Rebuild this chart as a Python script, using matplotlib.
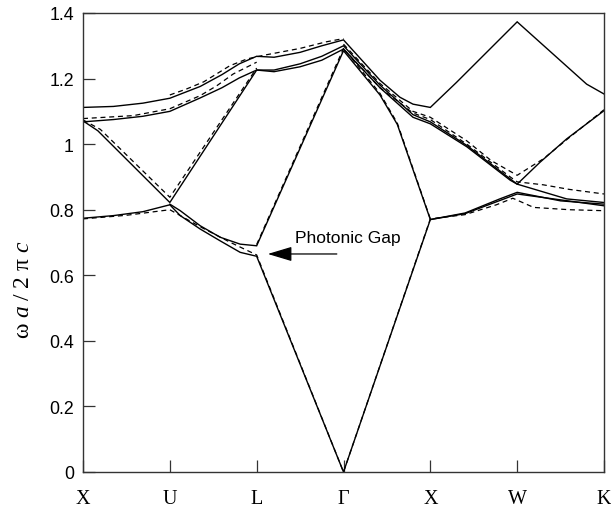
import matplotlib
matplotlib.use("Agg")
import matplotlib.pyplot as plt

plt.rcParams['mathtext.fontset'] = 'custom'
plt.rcParams['mathtext.rm'] = 'Liberation Serif'
plt.rcParams['mathtext.it'] = 'Liberation Serif:italic'

# High-symmetry points along the k-path
kpoints = ["X", "U", "L", "Γ", "X", "W", "K"]
kpos = [0, 1, 2, 3, 4, 5, 6]

# ---- Solid bands (k-path coordinate, frequency) ----
b1_k = [0, 0.35, 0.69, 1.0, 1.12, 1.35, 1.58, 1.81, 2.0, 3.0, 4.0, 4.4, 4.8, 5.0, 5.5, 6.0]
b1_w = [0.774, 0.782, 0.794, 0.815, 0.782, 0.741, 0.705, 0.670, 0.658, 0.0, 0.770, 0.790, 0.833, 0.853, 0.827, 0.817]

b2_k = [1.0, 1.12, 1.35, 1.58, 1.81, 2.0, 3.0, 3.42, 3.62, 4.0, 4.4, 4.8, 5.0, 5.5, 6.0]
b2_w = [0.817, 0.797, 0.751, 0.716, 0.695, 0.690, 1.285, 1.150, 1.060, 0.770, 0.788, 0.828, 0.848, 0.830, 0.812]

b3_k = [0, 0.17, 1.0, 2.0, 2.2, 2.5, 2.75, 3.0, 3.42, 3.8, 4.0, 4.42, 4.92, 5.0, 5.57, 6.0]
b3_w = [1.071, 1.041, 0.822, 1.226, 1.221, 1.236, 1.256, 1.290, 1.172, 1.082, 1.062, 0.992, 0.890, 0.878, 0.833, 0.822]

b4_k = [0, 0.35, 0.69, 1.0, 1.35, 1.6, 1.8, 2.0, 2.2, 2.5, 2.75, 3.0, 3.42, 3.8, 4.0, 4.42, 4.92, 5.0, 5.26, 5.57, 6.0]
b4_w = [1.068, 1.075, 1.085, 1.100, 1.141, 1.172, 1.202, 1.226, 1.226, 1.245, 1.268, 1.300, 1.180, 1.090, 1.068, 0.996, 0.894, 0.878, 0.944, 1.016, 1.102]

b5_k = [0, 0.35, 0.69, 1.0, 1.35, 1.6, 1.8, 2.0, 2.2, 2.5, 2.75, 3.0, 3.42, 3.65, 3.8, 4.0, 4.3, 5.0, 5.8, 6.0]
b5_w = [1.112, 1.115, 1.125, 1.140, 1.176, 1.212, 1.245, 1.268, 1.265, 1.280, 1.300, 1.318, 1.195, 1.143, 1.122, 1.112, 1.188, 1.373, 1.183, 1.153]

solid_k = [b1_k, b2_k, b3_k, b4_k, b5_k]
solid_w = [b1_w, b2_w, b3_w, b4_w, b5_w]

# ---- Dashed bands (second calculation) ----
da_k = [0, 0.5, 1.0, 1.35, 1.7, 2.0, 3.0, 4.0, 4.4, 4.76, 4.95, 5.19, 5.6, 6.0]
da_w = [0.772, 0.783, 0.800, 0.748, 0.700, 0.662, 0.0, 0.772, 0.785, 0.815, 0.835, 0.807, 0.800, 0.797]

db_k = [0, 0.2, 1.0, 2.0]
db_w = [1.074, 1.045, 0.838, 1.232]

dc_k = [0, 0.58, 1.0, 1.35, 1.54, 1.73, 2.0]
dc_w = [1.078, 1.087, 1.108, 1.148, 1.178, 1.214, 1.250]

dd_k = [1.0, 1.19, 1.39, 1.69, 1.89, 2.1, 2.5, 2.8, 3.0]
dd_w = [1.150, 1.168, 1.190, 1.239, 1.260, 1.272, 1.292, 1.312, 1.322]

df_k = [3.0, 3.42, 3.8, 4.0, 4.42, 4.7, 5.0, 5.3, 5.6, 6.0]
df_w = [1.305, 1.185, 1.100, 1.082, 1.010, 0.950, 0.905, 0.955, 1.020, 1.105]

dg_k = [3.0, 3.42, 3.8, 4.0, 4.42, 4.92, 5.0, 5.3, 5.6, 6.0]
dg_w = [1.290, 1.172, 1.095, 1.075, 1.000, 0.900, 0.885, 0.876, 0.862, 0.848]

dh_k = [2.0, 3.0, 3.42, 3.62, 4.0]
dh_w = [0.694, 1.292, 1.155, 1.064, 0.772]

dashed_k = [da_k, db_k, dc_k, dd_k, df_k, dg_k, dh_k]
dashed_w = [da_w, db_w, dc_w, dd_w, df_w, dg_w, dh_w]

yticks = [0, 0.2, 0.4, 0.6, 0.8, 1.0, 1.2, 1.4]
ytick_labels = ["0", "0.2", "0.4", "0.6", "0.8", "1", "1.2", "1.4"]

fig = plt.figure(figsize=(6.11, 5.10), dpi=100)
ax = fig.add_axes([83/611, 1-473/510, (604-83)/611, (473-14)/510])

for k, w in zip(dashed_k, dashed_w):
    ax.plot(k, w, color='black', lw=0.9, dashes=(4, 3))
for k, w in zip(solid_k, solid_w):
    ax.plot(k, w, color='black', lw=1.0, solid_joinstyle='miter')

ax.set_xlim(0, 6)
ax.set_ylim(0, 1.4)
ax.set_xticks(kpos)
ax.set_xticklabels(kpoints, fontfamily='Liberation Serif', fontsize=14.5)
ax.set_yticks(yticks)
ax.set_yticklabels(ytick_labels, fontfamily='Liberation Sans', fontsize=12.8)
ax.tick_params(axis='y', direction='in', length=8.9, width=0.9, pad=6.5, color='#333333')
ax.tick_params(axis='x', direction='in', length=8.6, width=0.9, pad=12.5, color='#333333')
for s in ax.spines.values():
    s.set_color('#333333')
    s.set_linewidth(1.0)

fig.text(22/611, 1-290/510, r'$\mathrm{\omega}\ a\ /\ 2\ \mathrm{\pi}\ c$', rotation=90,
         ha='center', va='center', fontsize=17)

ax.annotate('', xy=(2.128, 0.665), xytext=(2.923, 0.665),
            arrowprops=dict(arrowstyle='-|>,head_length=1.5,head_width=0.45', color='black', lw=0.9,
                            shrinkA=0, shrinkB=0))
ax.text(2.44, 0.702, 'Photonic Gap', fontfamily='Liberation Sans', fontsize=12.5,
        ha='left', va='baseline')

fig.savefig('out.png', dpi=100)
